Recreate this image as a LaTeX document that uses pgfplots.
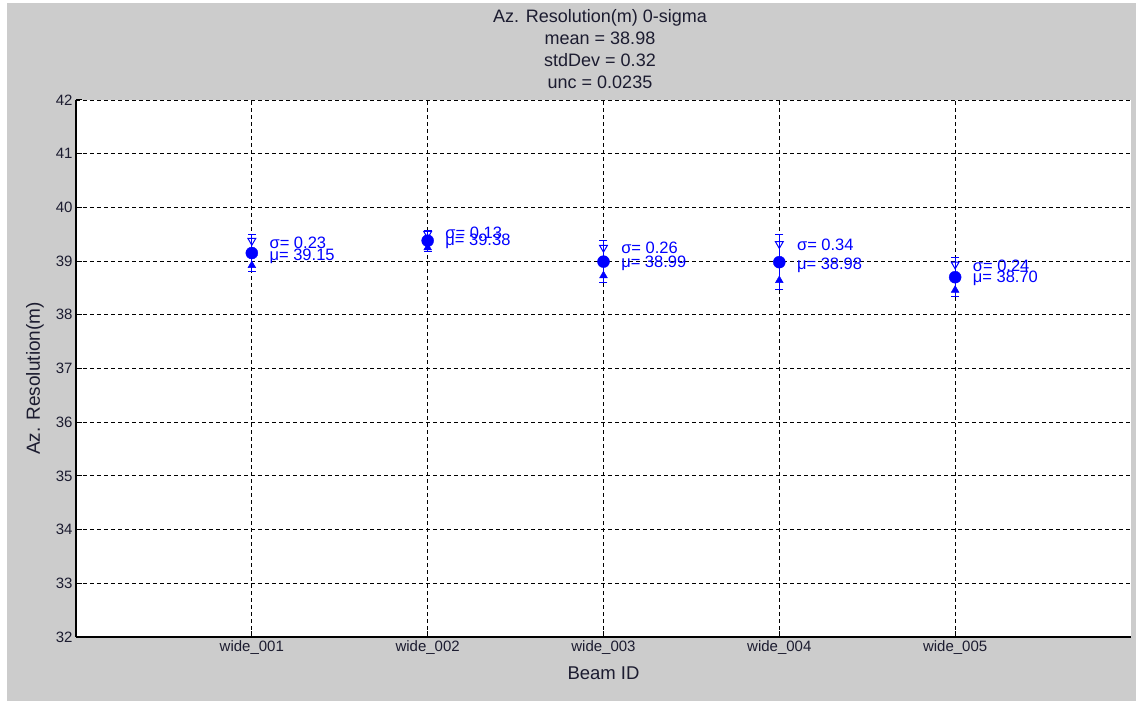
\documentclass[border=0pt]{standalone}
\usepackage{pgfplots}
\pgfplotsset{compat=1.18}
\usepackage{pgfplotstable}
\usepackage{fontspec}
\setmainfont{Liberation Sans}
\definecolor{bg}{HTML}{CCCCCC}
\definecolor{tk}{HTML}{1C1C30}
\pgfplotstableread{
x m s up lo
1 39.15 0.23 39.38 38.92
2 39.38 0.13 39.51 39.25
3 38.99 0.26 39.25 38.73
4 38.98 0.34 39.32 38.64
5 38.70 0.24 38.94 38.46
}\beam
\begin{document}
\begin{tikzpicture}[x=1pt,y=1pt]
\fill[white] (0,0) rectangle (1136,701);
\fill[bg] (7,0) rectangle (1136,698);
\begin{axis}[at={(76pt,64pt)}, anchor=south west, scale only axis,
  width=1055pt, height=537pt,
  xmin=0, xmax=6, ymin=32, ymax=42,
  xtick={1,2,3,4,5},
  xticklabels={wide\_001,wide\_002,wide\_003,wide\_004,wide\_005},
  ytick={32,33,...,42},
  grid=major,
  major grid style={dash pattern=on 4pt off 3pt, black, line width=0.9pt},
  axis x line*=bottom, axis y line*=left,
  axis line style={-, black, line width=1.1pt},
  tick style={black, line width=1pt},
  tick align=inside, major tick length=6pt,
  axis background/.style={fill=white},
  tick label style={font=\fontsize{15}{18}\selectfont, text=tk},
  /pgf/number format/assume math mode=true,
  xlabel={Beam ID},
  ylabel={Az. Resolution(m)},
  xlabel style={font=\fontsize{18.5}{20}\selectfont, text=tk, at={(axis description cs:0.5,0)}, anchor=center, yshift=-36pt},
  ylabel style={font=\fontsize{19}{20}\selectfont, text=tk, at={(axis description cs:0,0.5)}, anchor=center, yshift=41pt, xshift=-10pt},
  clip=false]
\addplot[blue, line width=1pt, mark=-, mark size=4pt, mark options={line width=1pt}] coordinates {(1,38.805) (1,39.495)};
\addplot[blue, line width=1pt, mark=-, mark size=4pt, mark options={line width=1pt}] coordinates {(2,39.185) (2,39.575)};
\addplot[blue, line width=1pt, mark=-, mark size=4pt, mark options={line width=1pt}] coordinates {(3,38.60) (3,39.38)};
\addplot[blue, line width=1pt, mark=-, mark size=4pt, mark options={line width=1pt}] coordinates {(4,38.47) (4,39.49)};
\addplot[blue, line width=1pt, mark=-, mark size=4pt, mark options={line width=1pt}] coordinates {(5,38.34) (5,39.06)};
\addplot[blue, only marks, mark=triangle, mark size=4.5pt,
  mark options={rotate=180, fill=white, line width=1pt}]
  table[x=x, y=up] {\beam};
\addplot[blue, only marks, mark=triangle*, mark size=4.5pt]
  table[x=x, y=lo] {\beam};
\addplot[blue, only marks, mark=*, mark size=6pt]
  table[x=x, y=m] {\beam};
\begin{scope}[every node/.style={anchor=west, text=blue, font=\fontsize{16.5}{18}\selectfont, inner sep=0pt}]
\node at (axis cs:1.1,39.34) {σ= 0.23};
\node at (axis cs:1.1,39.095) {μ= 39.15};
\node at (axis cs:2.1,39.52) {σ= 0.13};
\node at (axis cs:2.1,39.36) {μ= 39.38};
\node at (axis cs:3.1,39.25) {σ= 0.26};
\node at (axis cs:3.1,38.965) {μ= 38.99};
\node at (axis cs:4.1,39.30) {σ= 0.34};
\node at (axis cs:4.1,38.93) {μ= 38.98};
\node at (axis cs:5.1,38.91) {σ= 0.24};
\node at (axis cs:5.1,38.67) {μ= 38.70};
\end{scope}
\end{axis}
\node[align=center, text=tk, font=\fontsize{18}{22}\selectfont, inner sep=0pt] at (600,652)
  {Az. Resolution(m) 0-sigma\\mean = 38.98\\stdDev = 0.32\\unc = 0.0235};
\end{tikzpicture}
\end{document}
